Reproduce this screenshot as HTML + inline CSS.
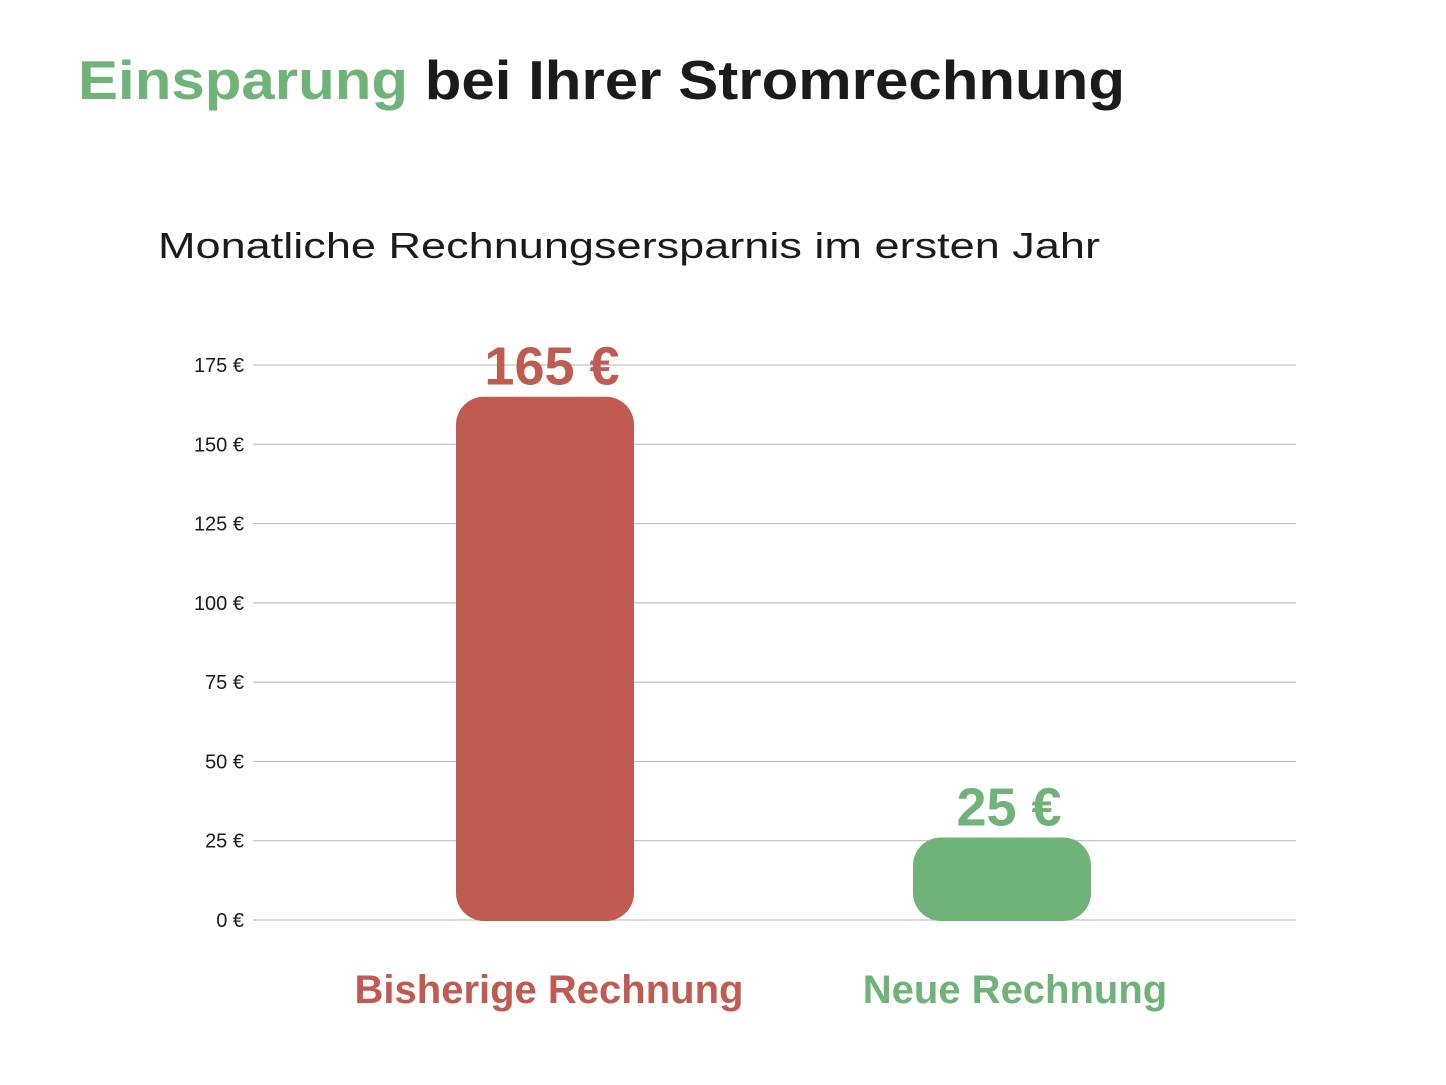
<!DOCTYPE html>
<html><head><meta charset="utf-8">
<style>
html,body{margin:0;padding:0;background:#fff;}
body{width:1446px;height:1080px;overflow:hidden;font-family:"Liberation Sans",sans-serif;}
</style></head>
<body>
<svg width="1446" height="1080" xmlns="http://www.w3.org/2000/svg">
<text x="78" y="99" font-size="55" font-weight="bold" fill="#1b1b1b" font-family="Liberation Sans, sans-serif" textLength="1047" lengthAdjust="spacingAndGlyphs"><tspan fill="#6FB378">Einsparung</tspan> bei Ihrer Stromrechnung</text>
<text x="158" y="258" font-size="36" fill="#1b1b1b" font-family="Liberation Sans, sans-serif" textLength="942" lengthAdjust="spacingAndGlyphs">Monatliche Rechnungsersparnis im ersten Jahr</text>
<g id="grid"></g>
<g id="bars"></g>
</svg>
<script>
const categories=["Bisherige Rechnung","Neue Rechnung"];
const values=[165,26];
const valueLabels=["165 €","25 €"];
const tickValues=[0,25,50,75,100,125,150,175];
const tickLabels=["0 €","25 €","50 €","75 €","100 €","125 €","150 €","175 €"];
const colors=["#BF5B51","#6FB378"];
const NS="http://www.w3.org/2000/svg";
const y0=920,y1=365,vmax=175;
function yScale(v){return y0-(v/vmax)*(y0-y1);}
const centers=[545,1002];const bw=178;
function xScale(i){return centers[i];}
const grid=document.getElementById('grid');
tickValues.forEach((t,i)=>{
 const l=document.createElementNS(NS,'line');
 l.setAttribute('x1',253);l.setAttribute('x2',1296);
 l.setAttribute('y1',yScale(t));l.setAttribute('y2',yScale(t));
 l.setAttribute('stroke','#b5b5b5');l.setAttribute('stroke-width','1');
 
 
 grid.appendChild(l);
 const tx=document.createElementNS(NS,'text');
 tx.setAttribute('x',244);tx.setAttribute('y',yScale(t)+7);
 tx.setAttribute('text-anchor','end');tx.setAttribute('font-size','20');
 tx.setAttribute('fill','#1b1b1b');
 tx.textContent=tickLabels[i];
 
 
 grid.appendChild(tx);
});
const bars=document.getElementById('bars');
values.forEach((v,i)=>{
 const r=document.createElementNS(NS,'rect');
 const top=yScale(v);
 r.setAttribute('x',xScale(i)-bw/2);r.setAttribute('y',top);
 r.setAttribute('width',bw);r.setAttribute('height',y0-top+1);
 r.setAttribute('rx',28);r.setAttribute('fill',colors[i]);
 
 
 bars.appendChild(r);
 const vl=document.createElementNS(NS,'text');
 vl.setAttribute('x',xScale(i)+7);vl.setAttribute('y',top-12);
 vl.setAttribute('text-anchor','middle');vl.setAttribute('font-size','54');
 vl.setAttribute('font-weight','bold');vl.setAttribute('fill',colors[i]);
 vl.textContent=valueLabels[i];
 
 
 bars.appendChild(vl);
 const cl=document.createElementNS(NS,'text');
 cl.setAttribute('x',xScale(i)+(i===0?4:13));cl.setAttribute('y',1003);
 cl.setAttribute('text-anchor','middle');cl.setAttribute('font-size','40');
 cl.setAttribute('font-weight','bold');cl.setAttribute('fill',colors[i]);
 cl.textContent=categories[i];
 
 
 bars.appendChild(cl);
});
</script>
</body></html>
